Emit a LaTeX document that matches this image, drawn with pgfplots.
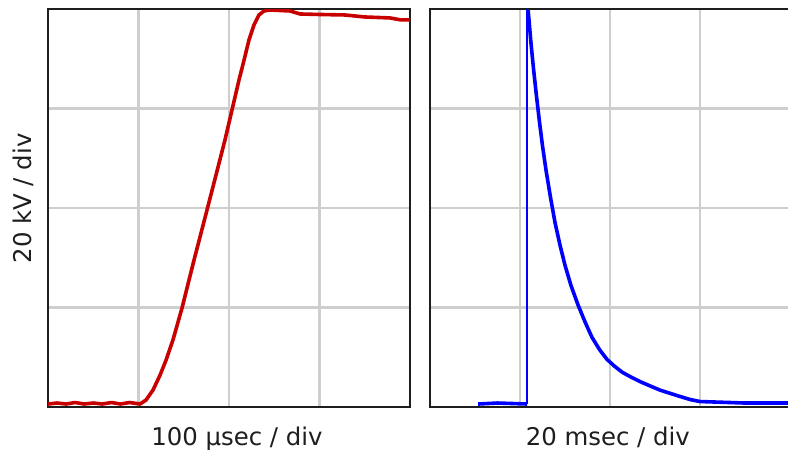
\documentclass[border=0pt]{standalone}
\usepackage{pgfplots}
\pgfplotsset{compat=1.18}
\usepackage{fontspec}
\setmainfont{DejaVu Sans}

\definecolor{tracered}{RGB}{200,0,0}
\definecolor{traceblue}{RGB}{0,0,255}
\definecolor{gridgray}{RGB}{206,206,206}
\definecolor{framegray}{RGB}{30,30,30}

% Common look of the two scope screens: 4 x 4 divisions, no tick labels
\newcommand{\scopefont}{\fontsize{24.4}{29}\selectfont}
\pgfplotsset{scopepanel/.style={
  scale only axis,
  height=398pt,
  ymin=0, ymax=80, ytick={20,40,60},
  xticklabels={}, yticklabels={},
  major tick length=0pt, tick style={draw=none},
  grid=major,
  major grid style={gridgray, line width=2.3pt},
  axis line style={framegray, line width=2.3pt},
  label style={font=\scopefont, text=framegray},
}}

\begin{document}
\begin{tikzpicture}
% Left screen: rise of the impulse, 100 us/div, 20 kV/div
\begin{axis}[scopepanel,
  at={(48pt,-407pt)}, anchor=south west,
  width=362pt,
  xmin=0, xmax=400, xtick={100,200,300},
  xlabel={100 µsec / div},
  xlabel style={at={(axis description cs:0.522,-0.0955)}, anchor=base},
  ylabel={20 kV / div},
  ylabel style={at={(axis description cs:-0.045,0.524)}, anchor=base, rotate=0}]
\addplot[tracered, line width=3.6pt, line join=round] coordinates {
  (0,0.6) (10,0.8) (20,0.6) (30,0.9) (40,0.6) (50,0.8) (60,0.6) (70,0.9)
  (80,0.6) (90,0.9) (101.7,0.6) (108.3,1.4) (116.0,3.4) (123.8,6.4)
  (130.4,9.4) (138.1,13.5) (148.1,19.9) (161.3,29.5) (175.7,39.6)
  (185.6,46.6) (195.6,53.7) (203.3,59.7) (211.0,65.7) (216.6,69.7)
  (222.1,73.8) (227.6,76.8) (233.1,78.8) (238.7,79.6) (245.3,79.8)
  (267.4,79.6) (278.5,79.0) (300,78.9) (328.2,78.8) (350,78.4)
  (377.9,78.2) (390,77.8) (400,77.8)
};
\end{axis}

% Right screen: decay of the impulse, 20 ms/div, 20 kV/div
\begin{axis}[scopepanel,
  at={(430pt,-407pt)}, anchor=south west,
  width=360pt,
  xmin=0, xmax=80, xtick={20,40,60},
  xlabel={20 msec / div},
  xlabel style={at={(axis description cs:0.494,-0.0955)}, anchor=base}]
\addplot[traceblue, line width=3.6pt, line join=round] coordinates {
  (10.7,0.6) (15,0.8) (21.6,0.6)
};
\addplot[traceblue, line width=2pt] coordinates {
  (21.6,0.6) (21.6,80)
};
\addplot[traceblue, line width=3.6pt, line join=round] coordinates {
  (21.8,79.8) (22.0,77.8) (22.4,73.5) (23.0,68.0) (23.6,63.0) (24.3,57.5)
  (25.0,52.5) (25.8,47.5) (26.8,42.0) (27.8,37.0) (28.9,32.5) (30.0,28.5)
  (31.3,24.5) (32.9,20.5) (34.5,17.0) (36.0,14.0) (37.7,11.5) (39.3,9.6)
  (41.0,8.2) (42.7,7.0) (44.7,6.0) (46.7,5.1) (49.0,4.2) (51.1,3.4)
  (54.9,2.3) (57.8,1.5) (60,1.1) (70,0.8) (79.6,0.8)
};
\end{axis}

\pgfresetboundingbox
\path[use as bounding box] (0pt,0pt) rectangle (788pt,-450pt);
\end{tikzpicture}
\end{document}
